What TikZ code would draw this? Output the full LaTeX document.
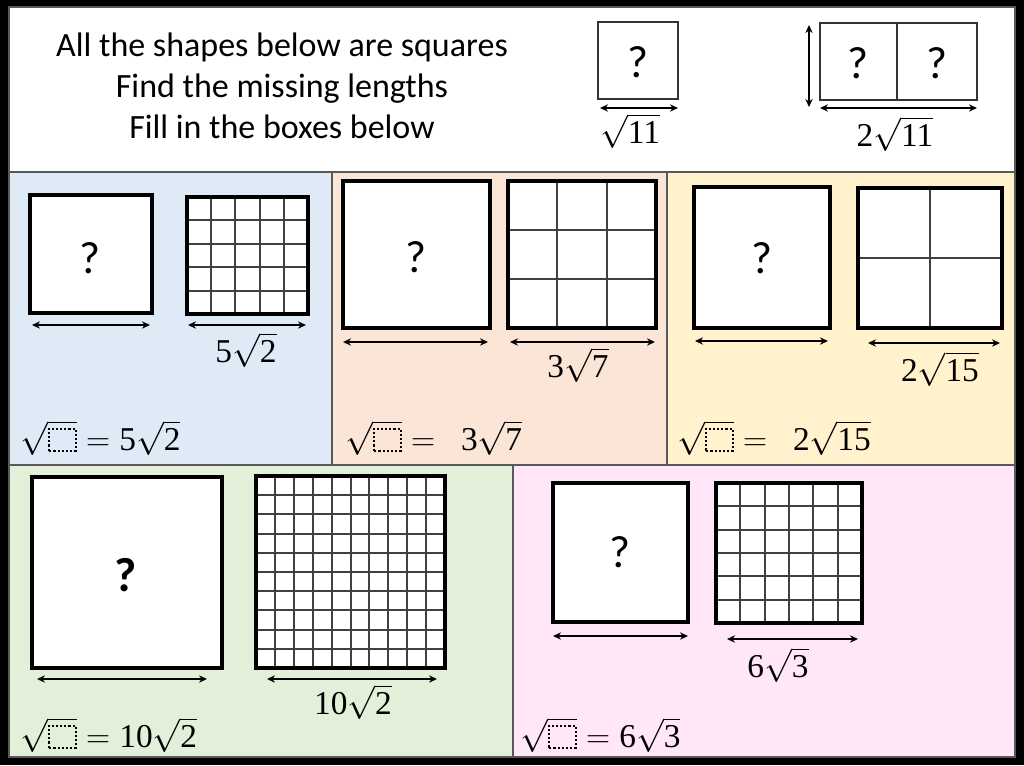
\RequirePackage{fix-cm}
\documentclass[tikz,border=0pt]{standalone}
\usepackage{fontspec}
\setmainfont{Carlito}
\newfontfamily\numfont{Liberation Serif}
\usetikzlibrary{arrows.meta}
\definecolor{panelblue}{HTML}{DEEBF7}
\definecolor{panelpeach}{HTML}{FBE5D6}
\definecolor{panelyellow}{HTML}{FFF2CC}
\definecolor{panelgreen}{HTML}{E2F0D9}
\definecolor{panelpink}{HTML}{FFE6F8}
\tikzset{
  panel/.style={draw=gray!70!black, line width=0.8pt},
  bigsq/.style={draw=black, line width=2.6pt, fill=white},
  thinsq/.style={draw=black!80, line width=0.9pt, fill=white},
  gridline/.style={draw=black!75, line width=1.5pt},
  dimarrow/.style={line width=1pt, {Stealth[length=6pt,width=5.5pt]}-{Stealth[length=6pt,width=5.5pt]}},
  qmark/.style={font=\fontsize{34}{40}\selectfont, inner sep=0pt},
  qbold/.style={font=\fontsize{36}{42}\selectfont\bfseries, inner sep=0pt},
  mathlbl/.style={font=\fontsize{25}{30}\selectfont, inner sep=0pt},
  eqn/.style={font=\fontsize{25}{30}\selectfont, inner sep=0pt, anchor=west},
  toptext/.style={font=\fontsize{25.5}{30.75}\selectfont, align=center, inner sep=0pt}
}
% digits in a heavier serif
\newcommand{\nm}[1]{\hbox{\numfont #1}}
% dotted answer box under the root sign
\newcommand{\dotsq}{\tikz[baseline=0pt]\draw[line width=1.6pt, dash pattern=on 1.6pt off 1.5pt] (0,0) rectangle (0.8em,0.66em);}
% square cut into n x n cells: x0 y0 x1 y1 n
\newcommand{\sqgrid}[5]{%
  \fill[white] (#1,#2) rectangle (#3,#4);
  \foreach \i [evaluate=\i as \gx using {round(#1+(#3-#1)*\i/#5)},
               evaluate=\i as \gy using {round(#2+(#4-#2)*\i/#5)}] in {1,...,#5}{
    \draw[gridline] (\gx,#2) -- (\gx,#4);
    \draw[gridline] (#1,\gy) -- (#3,\gy);
  }
  \draw[bigsq, fill=none] (#1,#2) rectangle (#3,#4);
}

\begin{document}
\begin{tikzpicture}[x=0.75pt, y=-0.75pt]

% Frame and panels
\fill[black] (0,0) rectangle (1024,765);
\filldraw[panel, fill=white] (9,7) rectangle (1015,172);
\filldraw[panel, fill=panelblue] (9,172) rectangle (332,465);
\filldraw[panel, fill=panelpeach] (332,172) rectangle (667,465);
\filldraw[panel, fill=panelyellow] (667,172) rectangle (1015,465);
\filldraw[panel, fill=panelgreen] (9,465) rectangle (513,757);
\filldraw[panel, fill=panelpink] (513,465) rectangle (1015,757);

% Instructions
\node[toptext] (intro) at (282,86) {All the shapes below are squares\\Find the missing lengths\\Fill in the boxes below};

% Worked example
\draw[thinsq] (598,22) rectangle (678,99);
\node[qmark] (q0) at (638,62) {?};
\draw[dimarrow] (600,108) -- (678,108);
\node[mathlbl] (l0) at (630,131) {$\sqrt{\nm{11}}$};
\draw[thinsq] (820,23) rectangle (977,100);
\draw[thinsq] (897,23) -- (897,100);
\node[qmark] (q0a) at (858,63) {?};
\node[qmark] (q0b) at (937,63) {?};
\draw[dimarrow] (809,25) -- (809,107);
\draw[dimarrow] (820,108) -- (977,108);
\node[mathlbl] (l0b) at (895,134) {$\nm{2}\sqrt{\nm{11}}$};

% Blue panel
\draw[bigsq] (30,195) rectangle (152,313);
\node[qmark] (qblue) at (90,258) {?};
\sqgrid{187}{197}{308}{314}{5}
\draw[dimarrow] (32,325) -- (150,325);
\draw[dimarrow] (188,325) -- (306,325);
\node[mathlbl] (lblue) at (246,350) {$\nm{5}\sqrt{\nm{2}}$};
\node[eqn] (eqblue) at (20,438) {$\sqrt{\dotsq}=\nm{5}\sqrt{\nm{2}}$};

% Peach panel
\draw[bigsq] (343,181) rectangle (490,328);
\node[qmark] (qpeach) at (416,257) {?};
\sqgrid{508}{181}{656}{328}{3}
\draw[dimarrow] (343,342) -- (488,342);
\draw[dimarrow] (510,342) -- (655,342);
\node[mathlbl] (lpeach) at (578,365) {$\nm{3}\sqrt{\nm{7}}$};
\node[eqn] (eqpeach) at (345,438) {$\sqrt{\dotsq}=\enspace\nm{3}\sqrt{\nm{7}}$};

% Yellow panel
\draw[bigsq] (694,187) rectangle (830,328);
\node[qmark] (qyellow) at (762,258) {?};
\sqgrid{858}{188}{1002}{328}{2}
\draw[dimarrow] (695,341) -- (828,341);
\draw[dimarrow] (868,343) -- (1000,343);
\node[mathlbl] (lyellow) at (940,369) {$\nm{2}\sqrt{\nm{15}}$};
\node[eqn] (eqyellow) at (677,438) {$\sqrt{\dotsq}=\enspace\nm{2}\sqrt{\nm{15}}$};

% Green panel
\draw[bigsq] (32,477) rectangle (222,668);
\node[qbold] (qgreen) at (126,575) {?};
\sqgrid{256}{476}{445}{668}{10}
\draw[dimarrow] (37,679) -- (207,679);
\draw[dimarrow] (267,679) -- (437,679);
\node[mathlbl] (lgreen) at (353,702) {$\nm{10}\sqrt{\nm{2}}$};
\node[eqn] (eqgreen) at (20,735) {$\sqrt{\dotsq}=\nm{10}\sqrt{\nm{2}}$};

% Pink panel
\draw[bigsq] (553,483) rectangle (688,622);
\node[qmark] (qpink) at (620,552) {?};
\sqgrid{716}{483}{862}{623}{6}
\draw[dimarrow] (553,636) -- (688,636);
\draw[dimarrow] (727,639) -- (858,639);
\node[mathlbl] (lpink) at (778,665) {$\nm{6}\sqrt{\nm{3}}$};
\node[eqn] (eqpink) at (520,735) {$\sqrt{\dotsq}=\nm{6}\sqrt{\nm{3}}$};

\end{tikzpicture}
\end{document}
